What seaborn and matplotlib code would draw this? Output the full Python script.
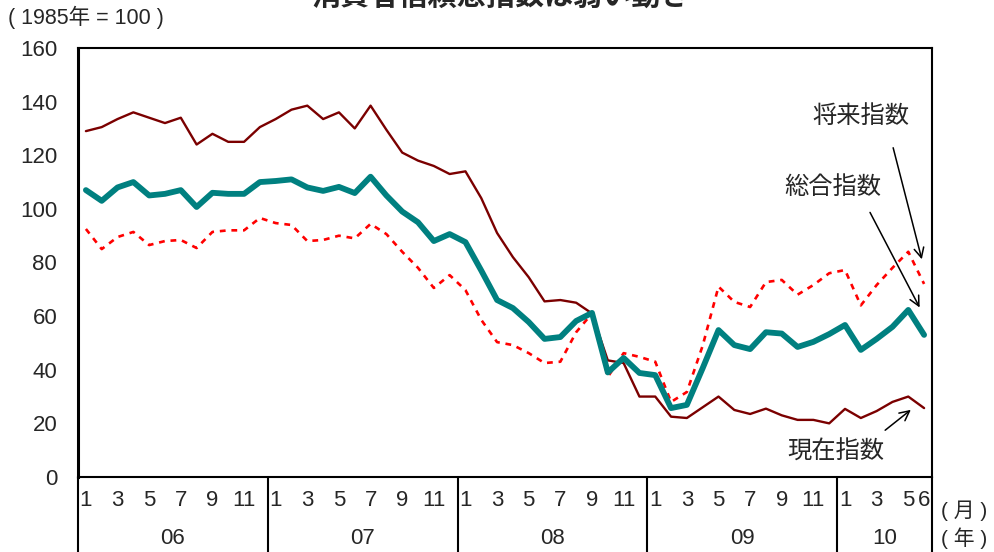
import numpy as np
import pandas as pd
import matplotlib
matplotlib.use('Agg')
import matplotlib.pyplot as plt
import matplotlib.transforms as mtransforms
import seaborn as sns

# Data: monthly, Jan 2006 - Jun 2010 (1985 = 100)
YEARS = ['06', '07', '08', '09', '10']
MONTHS_PER_YEAR = [12, 12, 12, 12, 6]

current_idx = [129, 130.5, 133.5, 136, 134, 132, 134, 124, 128, 125, 125, 130.5,
               133.5, 137, 138.5, 133.5, 136, 130, 138.5, 129.5, 121, 118, 116, 113,
               114, 104, 91, 82, 74.5, 65.5, 66, 65, 61, 43.5, 42.5, 30,
               30, 22.5, 22, 26, 30, 25, 23.5, 25.5, 23, 21.3, 21.3, 20,
               25.4, 22, 24.6, 28, 30, 25.7]
composite_idx = [107, 103, 108, 110, 105, 105.6, 107, 100.7, 106, 105.6, 105.6, 110,
                 110.4, 111, 108, 106.7, 108.2, 105.9, 112, 105, 99, 95, 88, 90.6,
                 87.6, 77, 66, 63, 57.8, 51.5, 52.2, 58.2, 61.2, 39, 44.4, 38.8,
                 38, 25.7, 26.9, 40.6, 54.8, 49.2, 47.7, 54, 53.5, 48.5, 50.4, 53.3,
                 56.7, 47.4, 51.5, 56, 62.3, 53]
expect_idx = [92.5, 85, 89.5, 91.4, 86.5, 88, 88.4, 85.4, 91.4, 92, 92, 96.6,
              94.7, 94, 88, 88.4, 90, 89, 94.4, 90.6, 84, 78, 70.5, 75.3,
              69.7, 58.6, 50.3, 49.2, 46.2, 42.5, 43, 54, 61, 37.3, 46.2, 44.8,
              43, 28, 31.7, 49, 71, 65.3, 63.4, 72.7, 73.5, 68, 71.6, 76,
              77.2, 64, 71.6, 78, 84, 72]

months = [m for n in MONTHS_PER_YEAR for m in range(1, n + 1)]
df = pd.DataFrame({
    't': np.arange(len(months)),
    'month': months,
    '現在指数': current_idx,
    '総合指数': composite_idx,
    '将来指数': expect_idx,
})

sns.set_style('white')
plt.rcParams['font.family'] = ['Liberation Sans Narrow', 'Liberation Sans', 'Noto Sans CJK JP', 'DejaVu Sans']

fig = plt.figure(figsize=(9.94, 5.52), dpi=100)
W, H = 994, 552
ax = fig.add_axes([78 / W, (H - 477) / H, (932 - 78) / W, (477 - 48) / H])

sns.lineplot(data=df, x='t', y='現在指数', ax=ax, color='#7B0000', linewidth=1.7)
sns.lineplot(data=df, x='t', y='将来指数', ax=ax, color='#FF0000', linewidth=1.9,
             dashes=False, linestyle=(0, (2.2, 2.2)))
sns.lineplot(data=df, x='t', y='総合指数', ax=ax, color='#008080', linewidth=4.2)

ax.set_xlim(-0.5, len(months) - 0.5)
ax.set_ylim(0, 160)
ax.set_yticks(range(0, 161, 20))
ax.tick_params(axis='y', direction='in', length=8, width=1, color='#555555',
               labelsize=16, pad=15)
ax.set_xlabel('')
ax.set_ylabel('')

for s in ax.spines.values():
    s.set_color('black')
    s.set_linewidth(1.5)
ax.spines['left'].set_linewidth(2.2)

# month labels as x ticks
show = [i for i, m in enumerate(months) if m % 2 == 1 or (i >= len(months) - 2)]
ax.set_xticks(show)
ax.set_xticklabels([str(months[i]) for i in show], fontsize=16)
ax.tick_params(axis='x', length=0, pad=9)

# year table below the axis
trans = mtransforms.blended_transform_factory(ax.transData, ax.transAxes)
starts = np.cumsum([0] + MONTHS_PER_YEAR)
for b in starts:
    ax.plot([b - 0.5, b - 0.5], [0, -0.2], transform=trans, color='black',
            lw=1.5, clip_on=False)
for yr, a, b in zip(YEARS, starts[:-1], starts[1:]):
    ax.text((a + b) / 2 - 0.5, -0.143, yr, transform=trans, ha='center',
            va='center', fontsize=16)
ax.text(len(months) + 1.5, -0.078, '( 月 )', transform=trans, ha='center',
        va='center', fontsize=15)
ax.text(len(months) + 1.5, -0.143, '( 年 )', transform=trans, ha='center',
        va='center', fontsize=15)

# labels with arrows
ann = dict(arrowstyle='->,head_length=0.7,head_width=0.35', color='black', lw=1.1)
ax.text(49.0, 134.3, '将来指数', ha='center', va='center', fontsize=17.5)
ax.annotate('', xy=(52.9, 80.2), xytext=(51.0, 123.8), arrowprops=ann)
ax.text(47.2, 107.8, '総合指数', ha='center', va='center', fontsize=17.5)
ax.annotate('', xy=(52.8, 62.3), xytext=(49.5, 99.6), arrowprops=ann)
ax.text(47.4, 9.3, '現在指数', ha='center', va='center', fontsize=17.5)
ax.annotate('', xy=(52.3, 25.7), xytext=(50.4, 16.8), arrowprops=ann)

fig.text(8 / W, 1 - 17 / H, '( 1985年 = 100 )', ha='left', va='center', fontsize=15.5)
fig.text(500 / W, 1 - 5 / H, '消費者信頼感指数は弱い動き', ha='center', va='baseline',
         fontsize=21, fontweight='bold')

fig.savefig('out.png', dpi=100)
